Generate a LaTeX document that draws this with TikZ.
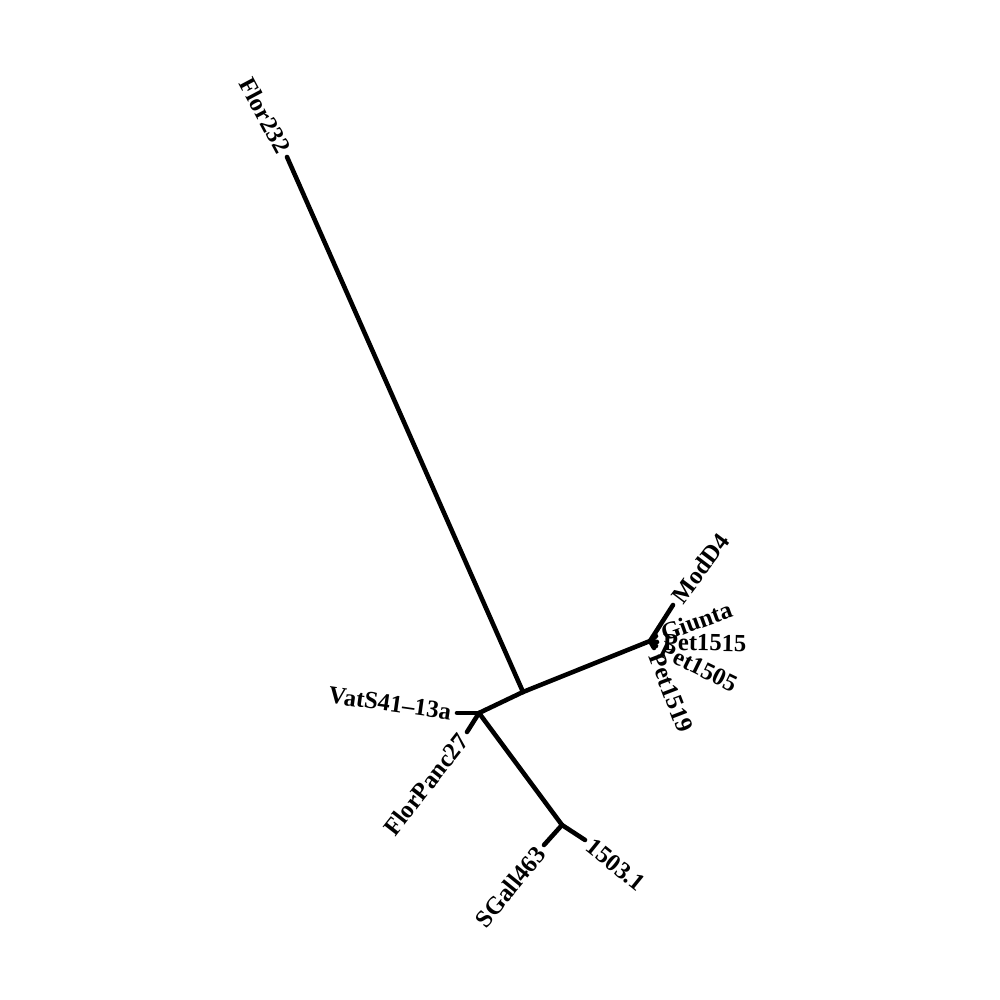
\documentclass[tikz,border=0pt]{standalone}
\usepackage{fontspec}
\setmainfont{Liberation Serif}
\usetikzlibrary{positioning}

\begin{document}
\begin{tikzpicture}[
  branch/.style={line width=1.3pt, line cap=round},
  tipl/.style={font=\fontsize{7}{8}\selectfont\bfseries, inner sep=1.5pt, anchor=west},
  tipr/.style={font=\fontsize{7}{8}\selectfont\bfseries, inner sep=1.5pt, anchor=east},
]
\useasboundingbox (0,0) rectangle (10,10);

% ---------------- internal nodes ------------------------------------
\coordinate (nA) at (5.23,3.08);
\coordinate (nB) at (4.79,2.87);
\coordinate (nC) at (5.62,1.75);
\coordinate (nD) at (6.50,3.59);

% ---------------- tips ----------------------------------------------
\coordinate (flor)   at (2.87,8.43);
\coordinate (vats)   at (4.57,2.87);
\coordinate (panc)   at (4.67,2.68);
\coordinate (sgall)  at (5.44,1.55);
\coordinate (ed1503) at (5.85,1.60);
\coordinate (modd)   at (6.73,3.95);
\coordinate (giunta) at (6.56,3.64);
\coordinate (pet15)  at (6.57,3.58);
\coordinate (pet05)  at (6.56,3.54);
\coordinate (pet19)  at (6.54,3.52);

% ---------------- branches ------------------------------------------
\draw[branch] (nA) -- (flor);
\draw[branch] (nA) -- (nB);
\draw[branch] (nA) -- (nD);
\draw[branch] (nB) -- (vats);
\draw[branch] (nB) -- (panc);
\draw[branch] (nB) -- (nC);
\draw[branch] (nC) -- (sgall);
\draw[branch] (nC) -- (ed1503);
\foreach \t in {modd,giunta,pet15,pet05,pet19}
  \draw[branch] (nD) -- (\t);

% ---------------- labels --------------------------------------------
\node[tipr, rotate=-62] (lflor)   at (flor)   {Flor232};
\node[tipr, rotate=-8]  (lvats)   at (vats)   {VatS41--13a};
\node[tipr, rotate=52]  (lpanc)   at (panc)   {FlorPanc27};
\node[tipr, rotate=51]  (lsgall)  at (sgall)  {SGall463};
\node[tipl, rotate=-39] (l1503)   at (ed1503) {1503.1};
\node[tipl, rotate=53]  (lmodd)   at (modd)   {ModD4};
\node[tipl, rotate=20]  (lgiunta) at (giunta) {Giunta};
\node[tipl, rotate=-1]  (lpet15)  at (pet15)  {Pet1515};
\node[tipl, rotate=-26] (lpet05)  at (pet05)  {Pet1505};
\node[tipl, rotate=-69] (lpet19)  at (pet19)  {Pet1519};

\end{tikzpicture}
\end{document}
